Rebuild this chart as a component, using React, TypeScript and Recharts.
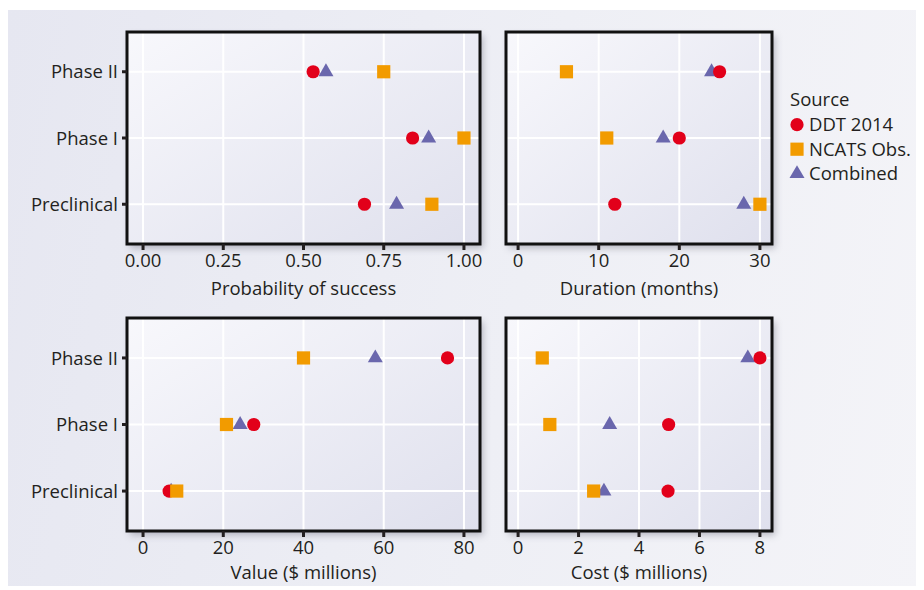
import React from 'react'
import {
  ScatterChart,
  Scatter,
  XAxis,
  YAxis,
  CartesianGrid,
  ReferenceArea,
} from 'recharts'

// stage order bottom -> top
const stages = ['Preclinical', 'Phase I', 'Phase II']
const stagePos = [1, 2, 3]

const probDDT = [0.69, 0.84, 0.53]
const probNCATS = [0.9, 1.0, 0.75]
const probCombined = [0.79, 0.89, 0.57]
const probTicks = [0, 0.25, 0.5, 0.75, 1]

const durDDT = [12, 20, 25]
const durNCATS = [30, 11, 6]
const durCombined = [28, 18, 24]
const durTicks = [0, 10, 20, 30]

const valDDT = [6.5, 27.6, 75.9]
const valNCATS = [8.4, 20.8, 40]
const valCombined = [7.0, 24.2, 57.9]
const valTicks = [0, 20, 40, 60, 80]

const costDDT = [4.96, 4.98, 8.0]
const costNCATS = [2.5, 1.05, 0.8]
const costCombined = [2.84, 3.03, 7.6]
const costTicks = [0, 2, 4, 6, 8]

const sources = ['DDT 2014', 'NCATS Obs.', 'Combined']

const RED = '#e2001a'
const ORANGE = '#f29b00'
const PURPLE = '#6a67ad'
const INK = '#231f20'
const FS = 18.5

const toPts = (vals: number[]) => vals.map((v, i) => ({ x: v, y: stagePos[i] }))

const Dot = (p: any) => <circle cx={p.cx} cy={p.cy} r={6.6} fill={RED} />
const Square = (p: any) => (
  <rect x={p.cx - 6.6} y={p.cy - 6.6} width={13.2} height={13.2} fill={ORANGE} />
)
const Tri = (p: any) => (
  <polygon
    points={`${p.cx},${p.cy - 8.4} ${p.cx - 7.5},${p.cy + 4.4} ${p.cx + 7.5},${p.cy + 4.4}`}
    fill={PURPLE}
  />
)

type PanelProps = {
  left: number
  top: number
  plotW: number
  plotH: number
  showY: boolean
  domain: [number, number]
  ticks: number[]
  fmt?: (v: number) => string
  title: string
  titleOffset: number
  ddt: number[]
  ncats: number[]
  combined: number[]
}

function Panel(p: PanelProps) {
  const yw = p.showY ? 119 : 0
  const ml = p.showY ? 0 : 8
  const mt = 22
  const width = ml + yw + p.plotW + 8
  const height = mt + p.plotH + 60
  return (
    <div style={{ position: 'absolute', left: p.left, top: p.top, width, height }}>
      <div
        style={{
          position: 'absolute',
          left: ml + yw,
          top: mt,
          width: p.plotW,
          height: p.plotH,
          boxShadow: '3px 4px 7px rgba(70,70,90,0.35)',
        }}
      />
      <ScatterChart
        width={width}
        height={height}
        margin={{ top: mt, left: ml, right: 8, bottom: 0 }}
        style={{ position: 'absolute', left: 0, top: 0 }}
      >
        <CartesianGrid stroke="#ffffff" strokeWidth={2} fill="url(#panelBg)" fillOpacity={1} />
        <XAxis
          type="number"
          dataKey="x"
          domain={p.domain}
          ticks={p.ticks}
          allowDataOverflow
          tickFormatter={p.fmt}
          axisLine={false}
          tickLine={{ stroke: INK, strokeWidth: 3 }}
          tickSize={6}
          tickMargin={4}
          height={60}
          tick={{ fontSize: FS, fill: INK }}
          label={{ value: p.title, position: 'insideBottom', offset: p.titleOffset, fontSize: FS, fill: INK }}
        />
        <YAxis
          type="number"
          dataKey="y"
          domain={[0.4, 3.6]}
          ticks={stagePos}
          allowDataOverflow
          hide={!p.showY}
          width={yw}
          tickFormatter={(v: number) => stages[v - 1]}
          axisLine={false}
          tickLine={{ stroke: INK, strokeWidth: 3 }}
          tickSize={5}
          tickMargin={4}
          tick={{ fontSize: FS, fill: INK }}
        />
        <ReferenceArea
          x1={p.domain[0]}
          x2={p.domain[1]}
          y1={0.4}
          y2={3.6}
          fill="none"
          stroke="#111"
          strokeWidth={3}
          ifOverflow="visible"
        />
        <Scatter data={toPts(p.combined)} shape={Tri} isAnimationActive={false} />
        <Scatter data={toPts(p.ddt)} shape={Dot} isAnimationActive={false} />
        <Scatter data={toPts(p.ncats)} shape={Square} isAnimationActive={false} />
      </ScatterChart>
    </div>
  )
}

function LegendBox() {
  const rows = [
    { label: sources[0], shape: <circle cx={14} cy={0} r={6.6} fill={RED} /> },
    { label: sources[1], shape: <rect x={7.4} y={-6.6} width={13.2} height={13.2} fill={ORANGE} /> },
    { label: sources[2], shape: <polygon points="14,-8.4 6.5,4.4 21.5,4.4" fill={PURPLE} /> },
  ]
  return (
    <svg width={140} height={110} style={{ position: 'absolute', left: 775, top: 75 }}>
      <text x={7} y={21} fontSize={FS} fill={INK}>Source</text>
      {rows.map((r, i) => (
        <g key={r.label} transform={`translate(0, ${39.7 + i * 24.5})`}>
          {r.shape}
          <text x={26} y={6.5} fontSize={FS} fill={INK}>{r.label}</text>
        </g>
      ))}
    </svg>
  )
}

export default function App() {
  return (
    <div
      style={{
        position: 'relative',
        top: 2,
        width: 916,
        height: 578,
        background: 'linear-gradient(100deg, #e6e7f1 0%, #eeeff5 55%, #f4f4f8 100%)',
        fontFamily: '"Open Sans", sans-serif',
      }}
    >
      <svg width={0} height={0} style={{ position: 'absolute' }}>
        <defs>
          <linearGradient id="panelBg" x1="0" y1="0" x2="1" y2="1">
            <stop offset="0%" stopColor="#f8f8fc" />
            <stop offset="100%" stopColor="#dfe0ed" />
          </linearGradient>
        </defs>
      </svg>
      <Panel left={0} top={0} plotW={353} plotH={212} showY domain={[-0.05, 1.05]} ticks={probTicks}
        fmt={(v) => v.toFixed(2)} title="Probability of success" titleOffset={9}
        ddt={probDDT} ncats={probNCATS} combined={probCombined} />
      <Panel left={490} top={0} plotW={266} plotH={212} showY={false} domain={[-1.5, 31.5]} ticks={durTicks}
        title="Duration (months)" titleOffset={9}
        ddt={durDDT} ncats={durNCATS} combined={durCombined} />
      <Panel left={0} top={286} plotW={353} plotH={213} showY domain={[-4, 84]} ticks={valTicks}
        title="Value ($ millions)" titleOffset={12}
        ddt={valDDT} ncats={valNCATS} combined={valCombined} />
      <Panel left={490} top={286} plotW={266} plotH={213} showY={false} domain={[-0.4, 8.4]} ticks={costTicks}
        title="Cost ($ millions)" titleOffset={12}
        ddt={costDDT} ncats={costNCATS} combined={costCombined} />
      <LegendBox />
    </div>
  )
}
